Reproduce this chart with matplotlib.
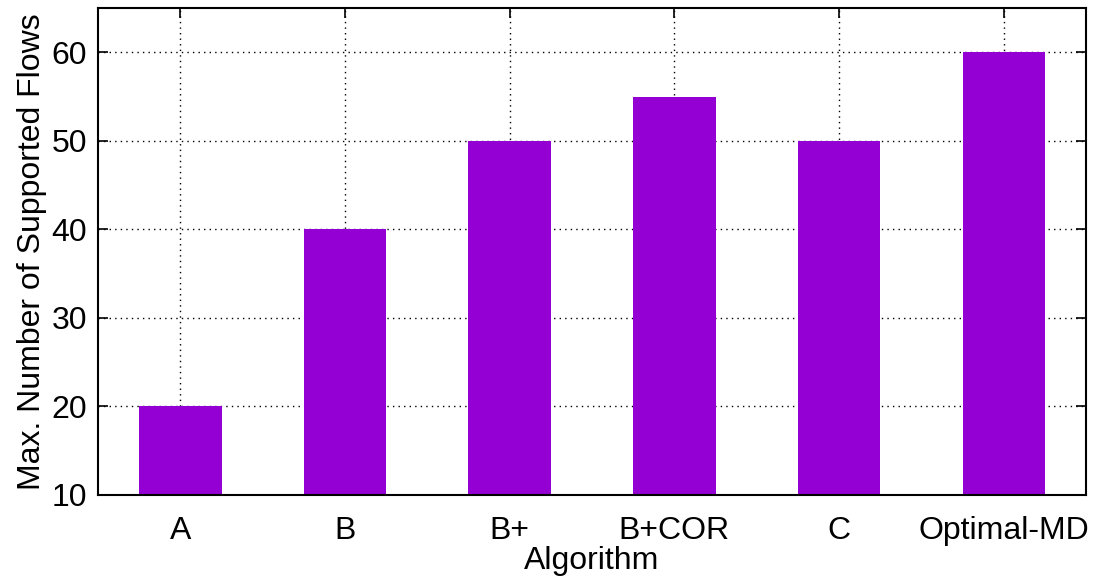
import matplotlib
matplotlib.use("Agg")
import matplotlib.pyplot as plt

# datos
algoritmos = ["A", "B", "B+", "B+COR", "C", "Optimal-MD"]
flujos = [20, 40, 50, 55, 50, 60]

plt.rcParams["font.family"] = ["Liberation Sans", "DejaVu Sans"]
plt.rcParams["font.size"] = 23

fig = plt.figure(figsize=(10.96, 5.78), dpi=100)
ax = fig.add_axes([98 / 1096, 1 - 495 / 578, 988 / 1096, 487 / 578])

x = list(range(len(algoritmos)))
ax.bar(x, flujos, width=0.5, bottom=0, color="#9400d3", zorder=2)

ax.set_xlim(-0.5, 5.5)
ax.set_ylim(10, 65)
ax.set_yticks([10, 20, 30, 40, 50, 60])
ax.set_xticks(x)
ax.set_xticklabels(algoritmos)

# rejilla punteada como gnuplot
ax.grid(True, color="black", linestyle=(0, (1, 3)), linewidth=1, zorder=1)
ax.set_axisbelow(True)

ax.tick_params(direction="in", top=True, right=True, length=7, width=1.2)
ax.tick_params(axis="x", pad=15)
ax.tick_params(axis="y", pad=8)
for s in ax.spines.values():
    s.set_linewidth(1.5)
    s.set_zorder(3)

ax.set_xlabel("Algorithm", labelpad=0)
ax.set_ylabel("Max. Number of Supported Flows", labelpad=3)

fig.savefig("out.png", dpi=100)
